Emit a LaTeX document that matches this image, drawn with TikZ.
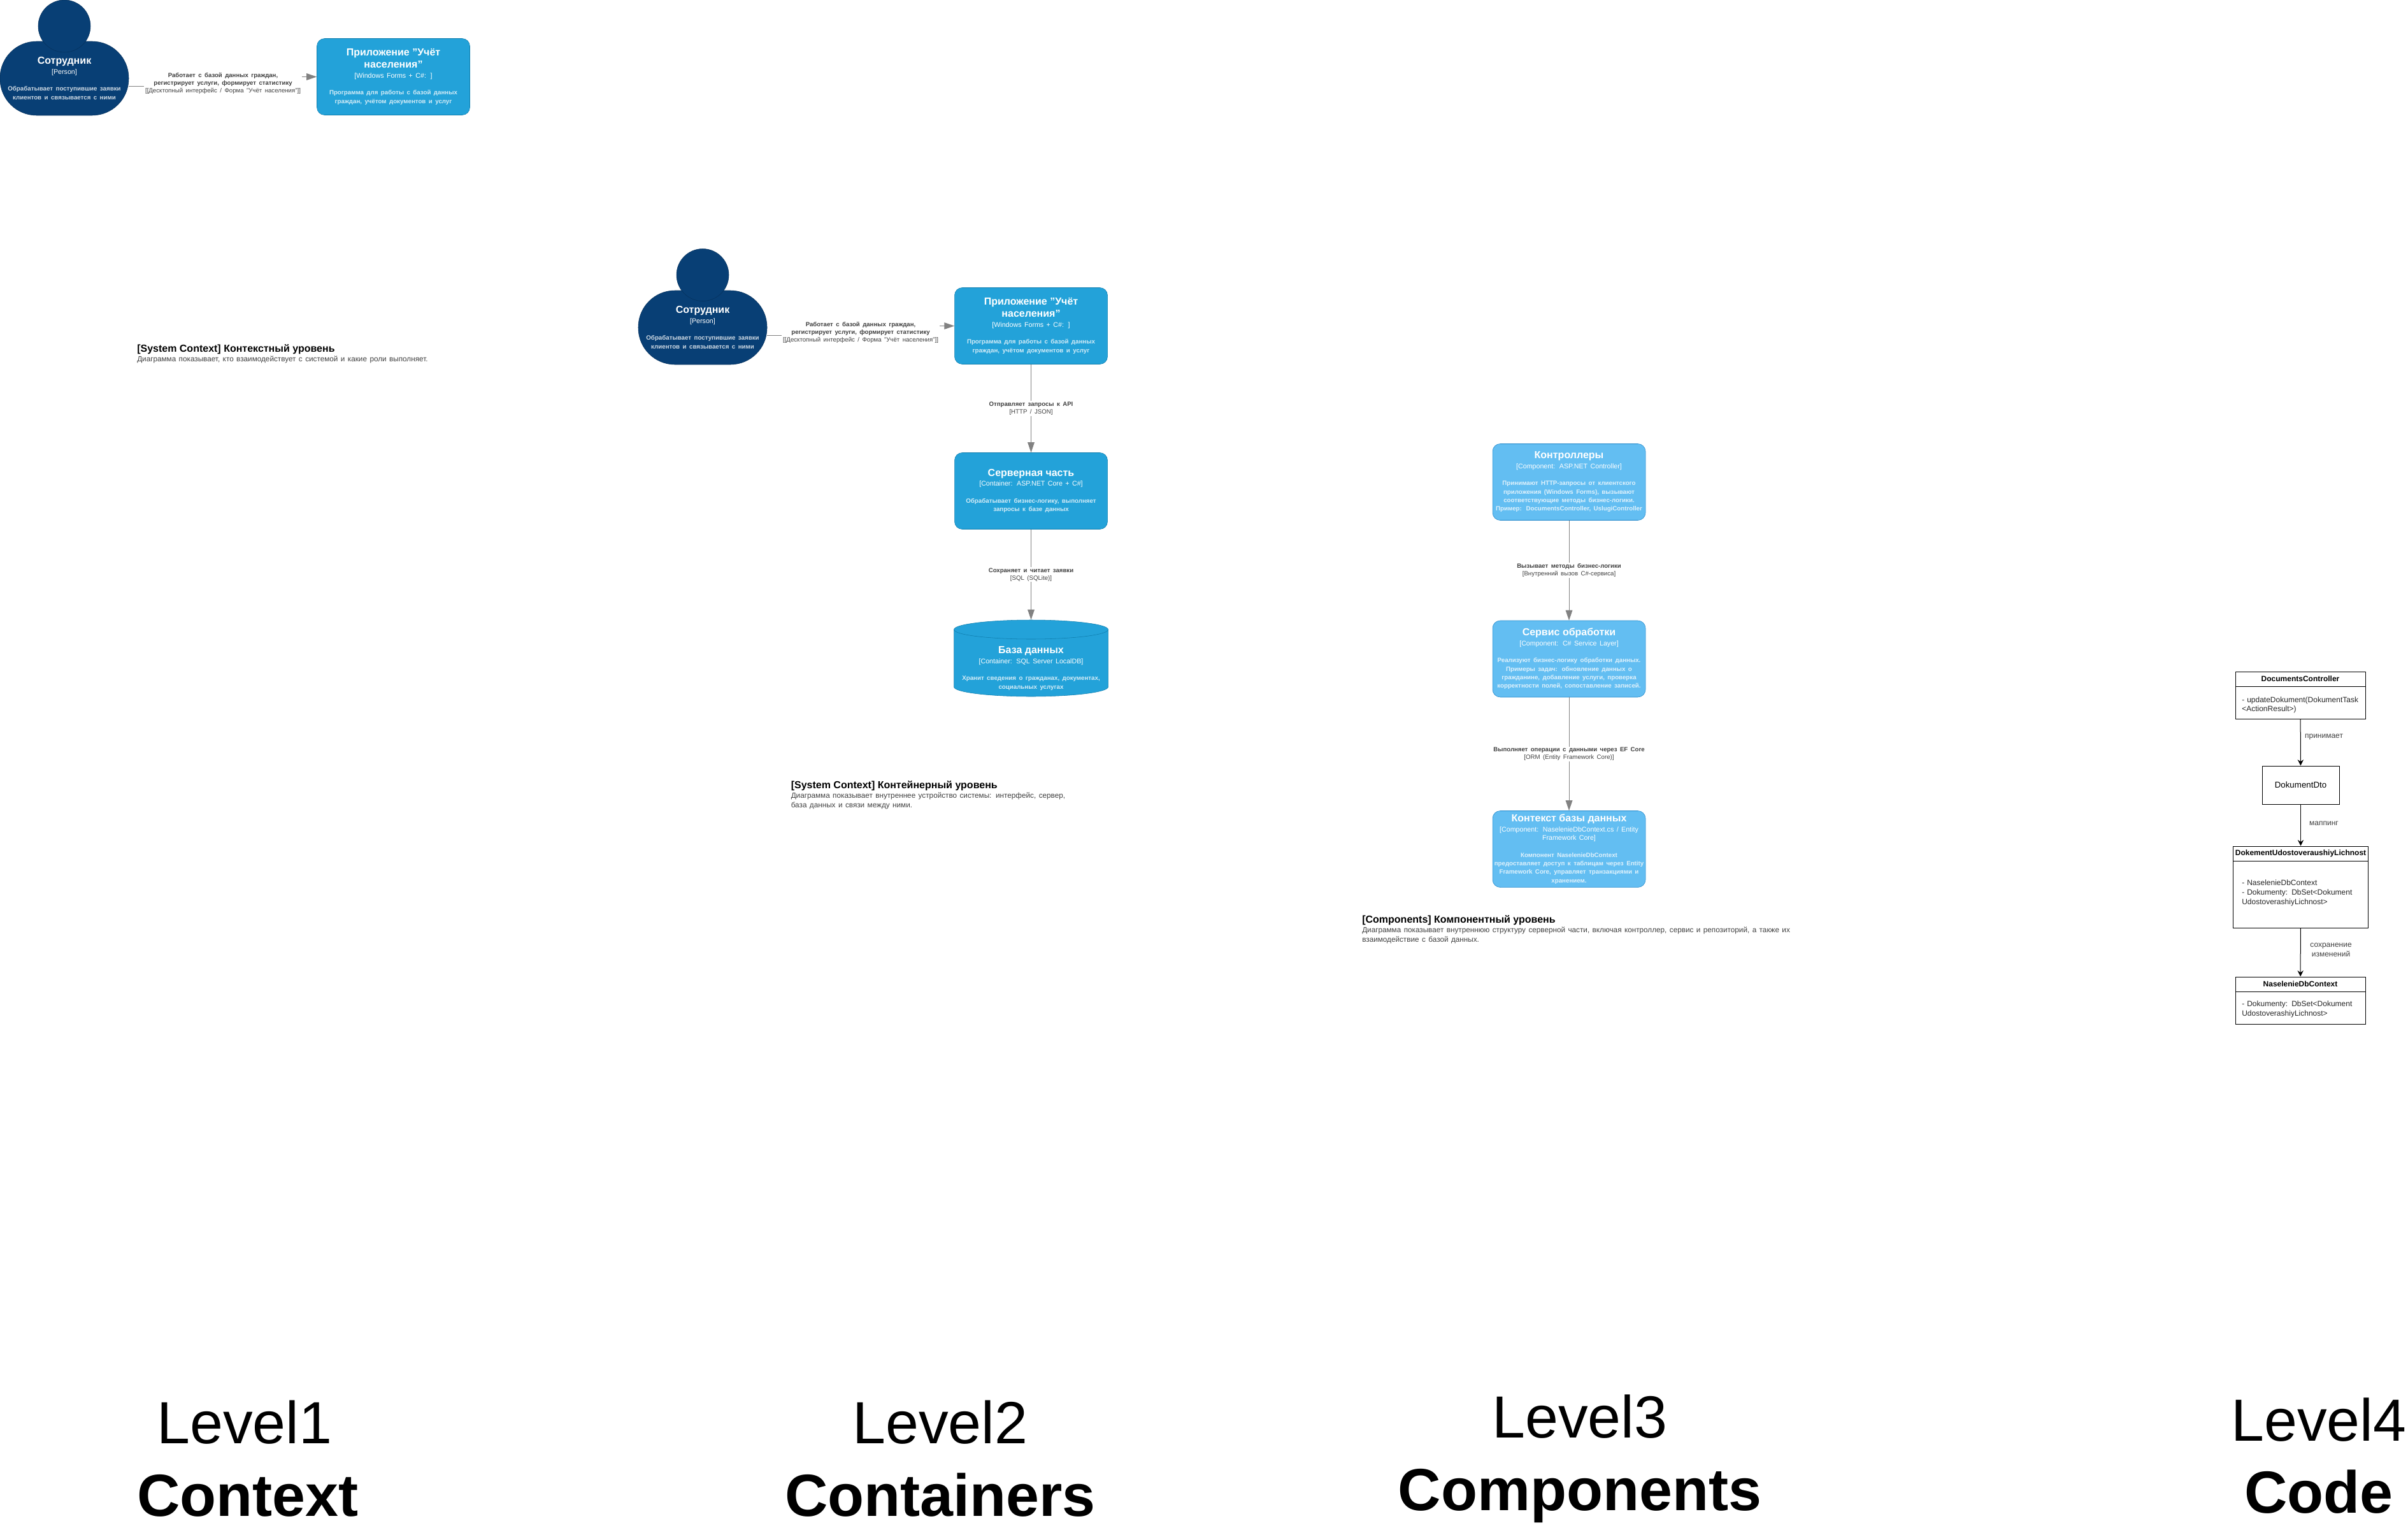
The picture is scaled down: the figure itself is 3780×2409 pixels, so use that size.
\documentclass[tikz,border=0pt]{standalone}
\usepackage{fontspec}
\setmainfont{Liberation Sans}
\usetikzlibrary{arrows.meta,positioning,shapes.geometric}

\definecolor{personfill}{HTML}{083F75}
\definecolor{personline}{HTML}{06315C}
\definecolor{persondesc}{HTML}{CED9E3}
\definecolor{contfill}{HTML}{23A2D9}
\definecolor{contline}{HTML}{0E7DAD}
\definecolor{contdesc}{HTML}{D3ECF7}
\definecolor{compfill}{HTML}{63BEF2}
\definecolor{compline}{HTML}{2086C9}
\definecolor{compdesc}{HTML}{E0F2FC}
\definecolor{relline}{HTML}{828282}
\definecolor{reltext}{HTML}{404040}

\newcommand{\boxname}[1]{{\fontsize{12}{14.25}\selectfont\bfseries #1\par}}
\newcommand{\boxtech}[1]{\vskip 1.5pt{\fontsize{8}{10}\selectfont #1\par}}
\newcommand{\boxdesc}[2]{\vskip 10pt{\fontsize{7.3}{10}\selectfont\bfseries\color{#1} #2\par}}
\newcommand{\relname}[1]{{\fontsize{7.2}{9}\selectfont\bfseries #1\par}}
\newcommand{\reltech}[1]{{\fontsize{7.25}{9}\selectfont #1\par}}
\newcommand{\captext}[2]{{\fontsize{12}{12.5}\selectfont\bfseries #1\par}{\fontsize{8.8}{11.25}\selectfont\color{reltext} #2\par}}

\tikzset{
  personbody/.style={rectangle,rounded corners=43pt,fill=personfill,draw=personline,text=white,
    minimum width=151.5pt,minimum height=87pt,text width=151.5pt,inner sep=0pt,align=center},
  personhead/.style={ellipse,fill=personfill,draw=personline,minimum width=61.5pt,minimum height=61.5pt,inner sep=0pt},
  contbox/.style={rectangle,rounded corners=9pt,fill=contfill,draw=contline,text=white,
    minimum width=180pt,minimum height=90pt,text width=180pt,inner sep=0pt,align=center},
  compbox/.style={contbox,fill=compfill,draw=compline},
  dbshape/.style={fill=contfill,draw=contline},
  dbtext/.style={rectangle,text=white,minimum width=180pt,minimum height=90pt,text width=180pt,inner sep=0pt,align=center},
  rel/.style={-{Triangle[length=12pt,width=8pt]},draw=relline,line width=.75pt},
  rellabel/.style={fill=white,text=reltext,text width=184pt,inner sep=1pt,align=center},
  caption/.style={anchor=north west,text width=370pt,inner sep=0pt,align=left},
  classbox/.style={rectangle,draw=black,line width=.75pt,minimum width=153pt},
  classname/.style={rectangle,draw=black,line width=.75pt,anchor=north,minimum height=17.25pt,
    inner sep=0pt,font=\fontsize{9}{11}\selectfont\bfseries},
  classtext/.style={anchor=west,text width=145pt,inner sep=0pt,align=left,text=black!85,
    font=\fontsize{9}{11}\selectfont},
  classlabel/.style={text=reltext,inner sep=0pt,align=center,font=\fontsize{9}{11}\selectfont},
  classarrow/.style={-{Stealth[length=7pt,width=7pt]},line width=.75pt},
  lvlname/.style={anchor=base,inner sep=0pt,font=\fontsize{70}{80}\selectfont},
  lvlbold/.style={anchor=base,inner sep=0pt,font=\fontsize{70}{80}\selectfont\bfseries}
}

\begin{document}
\begin{tikzpicture}[x=.75pt,y=-.75pt]
    \useasboundingbox (0,0) rectangle (3780,2409);

    % level 1
    \node[personbody] (ctxworker) at (101,123) {\boxname{Сотрудник}\boxtech{[Person]}\boxdesc{persondesc}{Обрабатывает поступившие заявки\\клиентов и связывается с ними}};
    \node[personhead] (ctxhead) at (101,41) {};
    \node[contbox] (ctxapp) at (617.5,120.5) {\boxname{Приложение "Учёт\\населения"}\boxtech{[Windows Forms + C\#: ]}\boxdesc{contdesc}{Программа для работы с базой данных\\граждан, учётом документов и услуг}};
    \coordinate (ctxbend) at (350,131);
    \draw[rel] ([yshift=-9.5pt]ctxworker.east) -| (ctxbend) |- (ctxapp.west);
    \node[rellabel] (ctxlabel) at (ctxbend) {\relname{Работает с базой данных граждан,\\регистрирует услуги, формирует статистику}\reltech{[[Десктопный интерфейс / Форма "Учёт населения"]]}};
    \node[caption] (ctxcaption) at (215,540) {\captext{[System Context] Контекстный уровень}{Диаграмма показывает, кто взаимодействует с системой и какие роли выполняет.}};

    % level 2
    \node[personbody] (ctnworker) at (1103,514) {\boxname{Сотрудник}\boxtech{[Person]}\boxdesc{persondesc}{Обрабатывает поступившие заявки\\клиентов и связывается с ними}};
    \node[personhead] (ctnhead) at (1103,431.5) {};
    \node[contbox] (ctnapp) at (1618.5,511.5) {\boxname{Приложение "Учёт\\населения"}\boxtech{[Windows Forms + C\#: ]}\boxdesc{contdesc}{Программа для работы с базой данных\\граждан, учётом документов и услуг}};
    \node[contbox] (ctnserver) at (1618.5,770.5) {\boxname{Серверная часть}\boxtech{[Container: ASP.NET Core + C\#]}\boxdesc{contdesc}{Обрабатывает бизнес-логику, выполняет\\запросы к базе данных}};
    \draw[dbshape] (1497.5,988) arc[start angle=180,end angle=0,x radius=90.75pt,y radius=11.25pt] -- (1739.5,1078) arc[start angle=0,end angle=-180,x radius=90.75pt,y radius=11.25pt] -- cycle;
    \draw[dbshape] (1497.5,988) arc[start angle=180,end angle=360,x radius=90.75pt,y radius=11.25pt];
    \node[dbtext] (ctndb) at (1618.5,1033) {\vskip 18pt\boxname{База данных}\boxtech{[Container: SQL Server LocalDB]}\boxdesc{contdesc}{Хранит сведения о гражданах, документах,\\социальных услугах}};
    \coordinate (ctnbend) at (1351,522);
    \draw[rel] ([yshift=-9.5pt]ctnworker.east) -| (ctnbend) |- (ctnapp.west);
    \node[rellabel] (ctnlabel) at (ctnbend) {\relname{Работает с базой данных граждан,\\регистрирует услуги, формирует статистику}\reltech{[[Десктопный интерфейс / Форма "Учёт населения"]]}};
    \draw[rel] (ctnapp) -- node[rellabel] (apilabel) {\relname{Отправляет запросы к API}\reltech{[HTTP / JSON]}} (ctnserver);
    \draw[rel] (ctnserver) -- node[rellabel] (sqllabel) {\relname{Сохраняет и читает заявки}\reltech{[SQL (SQLite)]}} (ctndb.north);
    \node[caption] (ctncaption) at (1241.5,1225) {\captext{[System Context] Контейнерный уровень}{Диаграмма показывает внутреннее устройство системы: интерфейс, сервер,\\база данных и связи между ними.}};

    % level 3
    \node[compbox] (compctrl) at (2463,756.5) {\boxname{Контроллеры}\boxtech{[Component: ASP.NET Controller]}\boxdesc{compdesc}{Принимают HTTP-запросы от клиентского\\приложения (Windows Forms), вызывают\\соответствующие методы бизнес-логики.\\Пример: DocumentsController, UslugiController}};
    \node[compbox] (compservice) at (2463,1034) {\boxname{Сервис обработки}\boxtech{[Component: C\# Service Layer]}\boxdesc{compdesc}{Реализуют бизнес-логику обработки данных.\\Примеры задач: обновление данных о\\гражданине, добавление услуги, проверка\\корректности полей, сопоставление записей.}};
    \node[compbox] (compcontext) at (2463,1332.5) {\boxname{Контекст базы данных}\boxtech{[Component: NaselenieDbContext.cs / Entity\\Framework Core]}\boxdesc{compdesc}{Компонент NaselenieDbContext\\предоставляет доступ к таблицам через Entity\\Framework Core, управляет транзакциями и\\хранением.}};
    \draw[rel] (compctrl) -- node[rellabel] (calllabel) {\relname{Вызывает методы бизнес-логики}\reltech{[Внутренний вызов C\#-сервиса]}} (compservice);
    \draw[rel] (compservice) -- node[rellabel] (ormlabel) {\relname{Выполняет операции с данными через EF Core}\reltech{[ORM (Entity Framework Core)]}} (compcontext);
    \node[caption,text width=520pt] (compcaption) at (2138,1436) {\captext{[Components] Компонентный уровень}{Диаграмма показывает внутреннюю структуру серверной части, включая контроллер, сервис и репозиторий, а также их\\взаимодействие с базой данных.}};

    % level 4
    \node[classbox,minimum height=55.5pt] (docctrl) at (3611,1091) {};
    \node[classname,minimum width=153pt] (docctrlname) at (docctrl.north) {DocumentsController};
    \node[classtext] (docctrltext) at (3519,1106.5) {- updateDokument(DokumentTask\\<ActionResult>)};
    \node[classbox,minimum width=90.75pt,minimum height=45pt] (docdto) at (3611.5,1232) {DokumentDto};
    \node[classbox,minimum width=158.5pt,minimum height=96pt] (docentity) at (3611.5,1392) {};
    \node[classname,minimum width=158.5pt] (docentityname) at (docentity.north) {DokementUdostoveraushiyLichnost};
    \node[classtext] (docentitytext) at (3519,1401.5) {- NaselenieDbContext\\- Dokumenty: DbSet<Dokument\\UdostoverashiyLichnost>};
    \node[classbox,minimum height=55.5pt] (dbctx) at (3611,1570) {};
    \node[classname,minimum width=153pt] (dbctxname) at (dbctx.north) {NaselenieDbContext};
    \node[classtext] (dbctxtext) at (3519,1584) {- Dokumenty: DbSet<Dokument\\UdostoverashiyLichnost>};
    \draw[classarrow] (docctrl) -- (docdto);
    \draw[classarrow] (docdto) -- (docentity);
    \draw[classarrow] (docentity) -- (dbctx);
    \node[classlabel] (takeslabel) at (3648,1157) {принимает};
    \node[classlabel] (maplabel) at (3648,1292) {маппинг};
    \node[classlabel] (savelabel) at (3659,1490.5) {сохранение\\изменений};

    % level captions
    \node[lvlname] (lvlone) at (384,2265) {Level1};
    \node[lvlbold] (ctxname) at (389,2379) {Context};
    \node[lvlname] (lvltwo) at (1476,2265) {Level2};
    \node[lvlbold] (ctnname) at (1476,2379) {Containers};
    \node[lvlname] (lvlthree) at (2480,2256) {Level3};
    \node[lvlbold] (compname) at (2480,2370) {Components};
    \node[lvlname] (lvlfour) at (3640,2261) {Level4};
    \node[lvlbold] (codename) at (3640,2374) {Code};
\end{tikzpicture}
\end{document}
